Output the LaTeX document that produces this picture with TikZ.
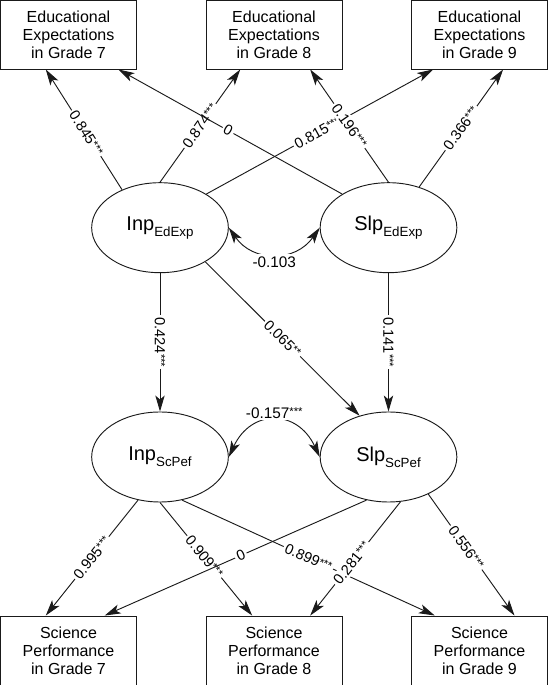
\documentclass[tikz,border=0pt]{standalone}
\usepackage{fontspec}
\setmainfont{Liberation Sans}
\usetikzlibrary{arrows.meta,shapes.geometric}
\definecolor{Ink}{HTML}{1A1A1A}
\newcommand{\Sig}[1]{\raisebox{0.3ex}{\fontsize{8.5}{8.5}\selectfont #1}}
\newcommand{\Latent}[2]{#1\raisebox{-4.3pt}{\fontsize{10}{12}\selectfont #2}}

\begin{document}
\begin{tikzpicture}[x=0.75pt,y=0.75pt,
  obsbox/.style={draw=Ink,line width=0.7pt,minimum width=102pt,minimum height=51.75pt,inner sep=0pt,align=center,font=\fontsize{12}{13.5}\selectfont},
  latent/.style={ellipse,draw=Ink,line width=0.7pt,minimum width=102.5pt,minimum height=67.5pt,inner sep=0pt,font=\fontsize{15}{18}\selectfont},
  effect/.style={draw=Ink,line width=0.7pt,-{Stealth[length=12pt,width=7pt,inset=3pt]}},
  covar/.style={draw=Ink,line width=0.7pt,{Stealth[length=12pt,width=7pt,inset=3pt]}-{Stealth[length=12pt,width=7pt,inset=3pt]}},
  coef/.style={fill=white,inner sep=1.5pt,sloped,font=\fontsize{11}{12}\selectfont},
  covlbl/.style={fill=white,inner sep=1.5pt,font=\fontsize{11.5}{13}\selectfont}]
\useasboundingbox (0,0) rectangle (548,685);
\foreach \g/\x in {7/68.5,8/274,9/479.5} {
  \node[obsbox] (ee\g) at (\x,650.5) {Educational\\Expectations\\in Grade \g};
  \node[obsbox] (sp\g) at (\x,34.5) {Science\\Performance\\in Grade \g};
}
\node[latent] (inpE) at (160,457.3) {\Latent{Inp}{EdExp}};
\node[latent] (slpE) at (388.5,457.3) {\Latent{Slp}{EdExp}};
\node[latent] (inpS) at (160,228) {\Latent{Inp}{ScPef}};
\node[latent] (slpS) at (388.5,228) {\Latent{Slp}{ScPef}};

\draw[effect] (inpE.135) -- node[coef,pos=.47] (c-ie7) {0.845\Sig{***}} (ee7.-123.5);
\draw[effect] (inpE.north) -- node[coef] (c-ie8) {0.874\Sig{***}} (ee8.-134.8);
\draw[effect] (inpE.36) -- node[coef,pos=.49] (c-ie9) {0.815\Sig{***}} (ee9.-143);
\draw[effect] (slpE.144) -- node[coef,pos=.51] (c-se7) {0} (ee7.-35.3);
\draw[effect] (slpE.north) -- node[coef] (c-se8) {0.196\Sig{***}} (ee8.-44.4);
\draw[effect] (slpE.53) -- node[coef] (c-se9) {0.366\Sig{***}} (ee9.-56.5);

\draw[effect] (inpE.south) -- node[coef] (c-ii) {0.424\Sig{***}} (inpS.north);
\draw[effect] (slpE.south) -- node[coef] (c-ss) {0.141\Sig{***}} (slpS.north);
\draw[effect] (inpE.-37) -- node[coef] (c-is) {0.065\Sig{**}} (slpS.125);
\draw[covar] (inpE.east) to[out=-55,in=-125,looseness=1.2] node[covlbl,below] (c-ee) {-0.103} (slpE.west);
\draw[covar] (inpS.east) to[out=65,in=115,looseness=1.5] node[covlbl,above] (c-sc) {-0.157\Sig{***}} (slpS.west);

\draw[effect] (inpS.-117) -- node[coef] (c-is7) {0.995\Sig{***}} (sp7.123.5);
\draw[effect] (inpS.south) -- node[coef,pos=.48] (c-is8) {0.909\Sig{***}} (sp8.122.6);
\draw[effect] (inpS.-63.2) -- node[coef] (c-is9) {0.899\Sig{***}} (sp9.142.9);
\draw[effect] (slpS.-117.3) -- node[coef,pos=.48] (c-ss7) {0} (sp7.44.8);
\draw[effect] (slpS.-75.2) -- node[coef,pos=.54] (c-ss8) {0.281\Sig{***}} (sp8.44.1);
\draw[effect] (slpS.-43.7) -- node[coef,pos=.44] (c-ss9) {0.556\Sig{***}} (sp9.45.2);
\end{tikzpicture}
\end{document}
